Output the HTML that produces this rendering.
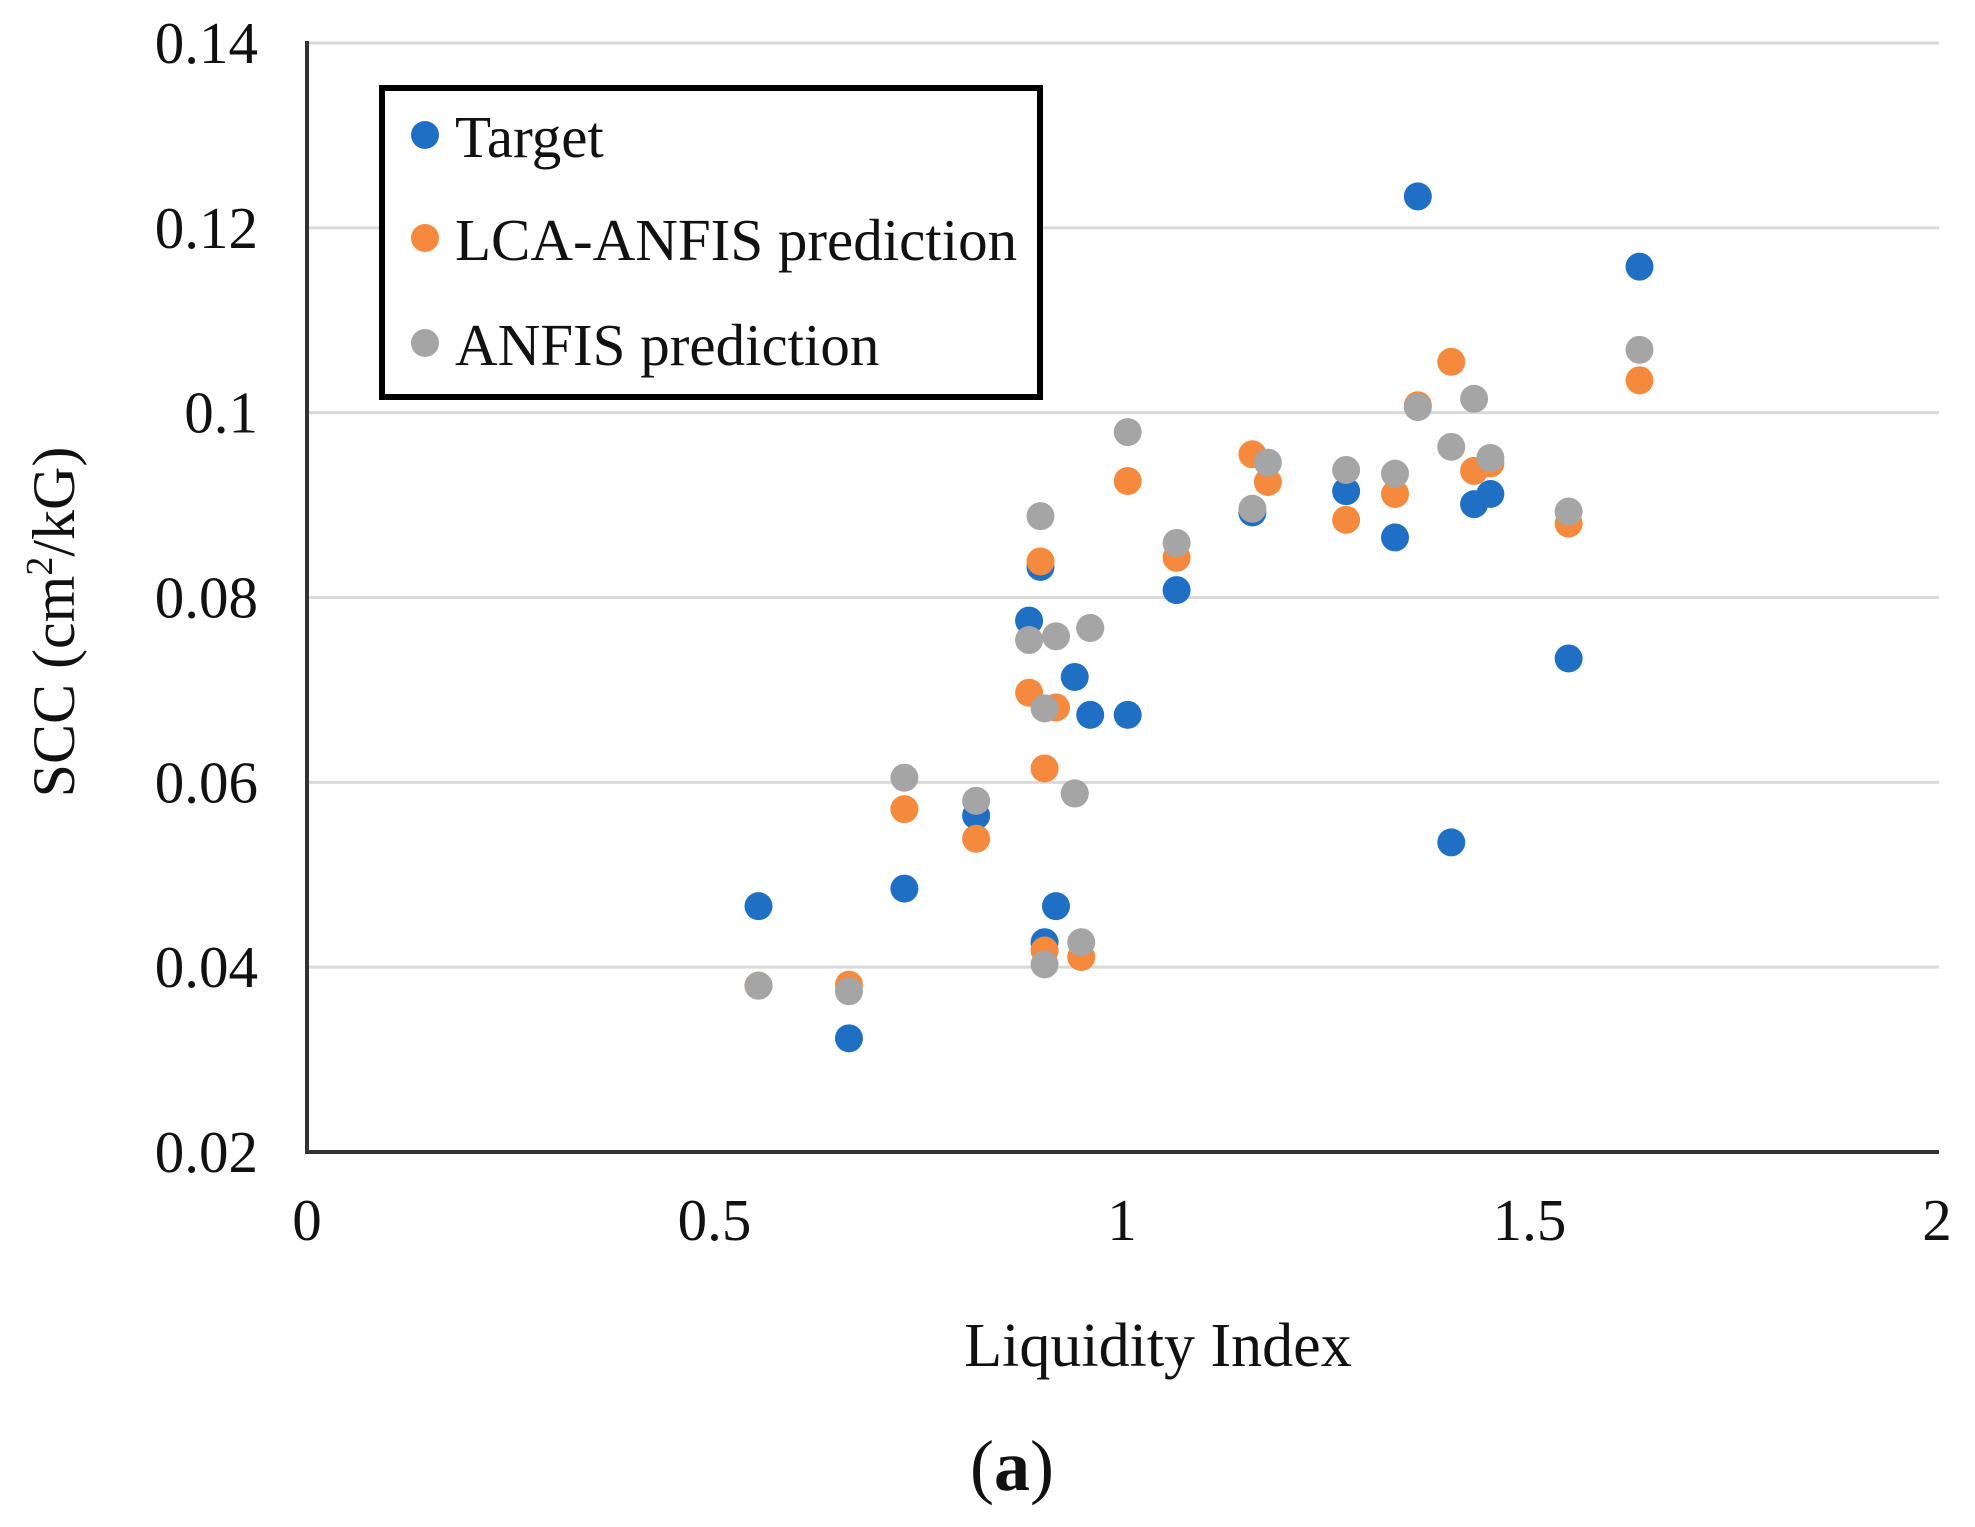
<!DOCTYPE html>
<html><head><meta charset="utf-8"><style>
html,body{margin:0;padding:0;background:#fff;}
svg{display:block;}
text{font-family:"Liberation Serif",serif;fill:#111;}
</style></head><body>
<svg id="chart" width="1975" height="1527" viewBox="0 0 1975 1527" xmlns="http://www.w3.org/2000/svg">
<g id="grid"></g>
<g id="yticks"></g>
<g id="xticks"></g>
<g id="pts"></g>
<line x1="307" y1="41" x2="307" y2="1154" stroke="#333" stroke-width="4"/>
<line x1="305" y1="1152" x2="1939" y2="1152" stroke="#333" stroke-width="4"/>
<text x="1158" y="1366" font-size="62" text-anchor="middle">Liquidity Index</text>
<text transform="translate(74,622) rotate(-90)" font-size="60" text-anchor="middle">SCC (cm<tspan font-size="38" dy="-22">2</tspan><tspan dy="22">/kG)</tspan></text>
<text x="1012" y="1490" font-size="72" text-anchor="middle">(<tspan font-weight="bold">a</tspan>)</text>
<g>
<rect x="382" y="88" width="658" height="309" fill="#fff" stroke="#000" stroke-width="6"/>
<g><circle cx="425" cy="135" r="14" fill="#1F6FC5"/><text x="455" y="157" font-size="59">Target</text></g>
<g><circle cx="425" cy="238" r="14" fill="#F58A3E"/><text x="455" y="260" font-size="59">LCA-ANFIS prediction</text></g>
<g><circle cx="425" cy="343" r="14" fill="#A5A5A5"/><text x="455" y="365" font-size="59">ANFIS prediction</text></g>
</g>
</svg>
<script>
const yTicks = [0.02,0.04,0.06,0.08,0.10,0.12,0.14];
const yTickLabels = ["0.02","0.04","0.06","0.08","0.1","0.12","0.14"];
const xTicks = [0,0.5,1,1.5,2];
const xTickLabels = ["0","0.5","1","1.5","2"];
const targetX = [0.554,0.665,0.733,0.821,0.886,0.900,0.905,0.919,0.942,0.961,1.007,1.067,1.160,1.275,1.335,1.363,1.404,1.432,1.452,1.548,1.635];
const targetY = [0.0466,0.0323,0.0485,0.0564,0.0775,0.0833,0.0427,0.0466,0.0714,0.0673,0.0673,0.0808,0.0892,0.0915,0.0865,0.1234,0.0535,0.0901,0.0912,0.0734,0.1158];
const lcaX = [0.554,0.665,0.733,0.821,0.886,0.900,0.905,0.919,0.942,0.950,0.905,0.961,1.007,1.067,1.160,1.179,1.275,1.335,1.363,1.404,1.432,1.452,1.548,1.635];
const lcaY = [0.0380,0.0381,0.0571,0.0539,0.0697,0.0839,0.0615,0.0681,0.0588,0.0411,0.0418,0.0767,0.0926,0.0843,0.0955,0.0925,0.0884,0.0912,0.1008,0.1055,0.0937,0.0945,0.0880,0.1035];
const anfisX = [0.554,0.665,0.733,0.821,0.886,0.900,0.905,0.919,0.942,0.950,0.905,0.961,1.007,1.067,1.160,1.179,1.275,1.335,1.363,1.404,1.432,1.452,1.548,1.635];
const anfisY = [0.0380,0.0374,0.0605,0.0580,0.0754,0.0888,0.0680,0.0758,0.0588,0.0427,0.0403,0.0767,0.0979,0.0859,0.0896,0.0946,0.0938,0.0934,0.1006,0.0963,0.1015,0.0951,0.0893,0.1068];

const X0=307, X1=1937, Y0=1152, Y1=43;
function sx(v){return X0+(v-0)/(2-0)*(X1-X0);}
function sy(v){return Y0-(v-0.02)/(0.14-0.02)*(Y0-Y1);}
const NS="http://www.w3.org/2000/svg";
const grid=document.getElementById('grid'), yt=document.getElementById('yticks'), xt=document.getElementById('xticks'), pts=document.getElementById('pts');
yTicks.forEach((v,i)=>{
  if(i>0){
    const l=document.createElementNS(NS,'line');
    
    
    l.setAttribute('x1',X0);l.setAttribute('x2',X1+2);
    l.setAttribute('y1',sy(v));l.setAttribute('y2',sy(v));
    l.setAttribute('stroke','#d9d9d9');l.setAttribute('stroke-width','3');
    grid.appendChild(l);
  }
  const t=document.createElementNS(NS,'text');
  
  
  t.setAttribute('x',258);t.setAttribute('y',sy(v)+20);
  t.setAttribute('text-anchor','end');t.setAttribute('font-size','59');
  t.textContent=yTickLabels[i];
  yt.appendChild(t);
});
xTicks.forEach((v,i)=>{
  const t=document.createElementNS(NS,'text');
  
  
  t.setAttribute('x',sx(v));t.setAttribute('y',1240);
  t.setAttribute('text-anchor','middle');t.setAttribute('font-size','59');
  t.textContent=xTickLabels[i];
  xt.appendChild(t);
});
function series(xs,ys,color,name){
  xs.forEach((x,i)=>{
    const c=document.createElementNS(NS,'circle');
    
    
    c.setAttribute('cx',sx(x));c.setAttribute('cy',sy(ys[i]));
    c.setAttribute('r',14);c.setAttribute('fill',color);
    pts.appendChild(c);
  });
}
series(targetX,targetY,'#1F6FC5','target-point');
series(lcaX,lcaY,'#F58A3E','lca-anfis-point');
series(anfisX,anfisY,'#A5A5A5','anfis-point');
</script>
</body></html>
